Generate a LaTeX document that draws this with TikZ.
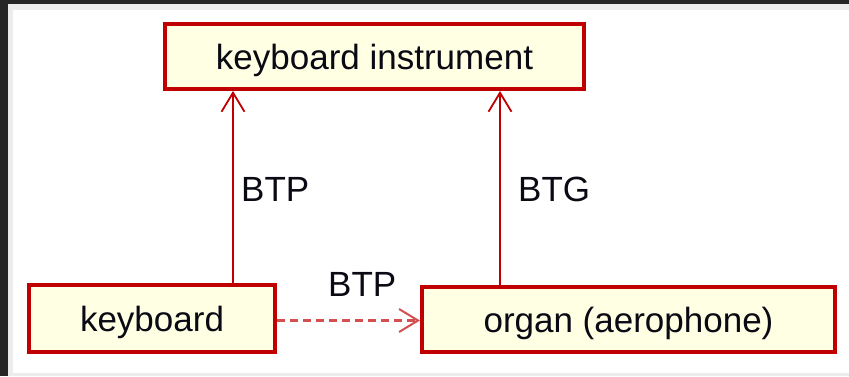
\documentclass[tikz,border=0pt]{standalone}
\usepackage{fontspec}
\setmainfont{Liberation Sans}
\usetikzlibrary{arrows.meta}
\definecolor{bord}{RGB}{192,0,0}
\definecolor{dashred}{RGB}{212,80,80}
\definecolor{boxfill}{RGB}{255,255,228}
\definecolor{darkframe}{RGB}{38,38,38}
\definecolor{lightframe}{RGB}{236,236,236}
\definecolor{txt}{RGB}{10,10,20}
\begin{document}
\begin{tikzpicture}[x=1pt,y=-1pt,
  box/.style={draw=bord, line width=4pt, fill=boxfill, inner sep=0pt,
    text height=25pt, text depth=0pt, font=\fontsize{35}{40}\selectfont, text=txt},
  lbl/.style={inner sep=0pt, anchor=base west, font=\fontsize{35}{40}\selectfont, text=txt},
  arr/.style={draw=bord, line width=2pt, -{Straight Barb[length=19pt,width=23pt,line width=1.8pt]}},
  darr/.style={draw=dashred, line width=2.5pt, dash pattern=on 8pt off 5pt, -{Straight Barb[length=19pt,width=23pt,line width=2pt]}}]
\useasboundingbox (0,0) rectangle (849,376);
\fill[darkframe] (0,0) rectangle (849,376);
\fill[lightframe] (8,4) rectangle (849,376);
\fill[white] (13,10) rectangle (849,373);
\node[box, minimum width=419pt, minimum height=65pt] (ki) at (374.5,56.5) {keyboard instrument};
\node[box, minimum width=246pt, minimum height=67pt] (kb) at (152,318.5) {keyboard};
\node[box, minimum width=413pt, minimum height=65pt] (org) at (628.5,319.5) {organ (aerophone)};
\draw[arr] ([xshift=81pt]kb.north) -- ([xshift=81pt]kb.north |- ki.south);
\draw[arr] ([xshift=-128.5pt]org.north) -- ([xshift=-128.5pt]org.north |- ki.south);
\draw[darr] ([yshift=-2pt]kb.east) -- ([yshift=-2pt]kb.east -| org.west);
\node[lbl] (l1) at (241,201) {BTP};
\node[lbl] (l2) at (518,201) {BTG};
\node[lbl] (l3) at (328,296) {BTP};
\end{tikzpicture}
\end{document}
